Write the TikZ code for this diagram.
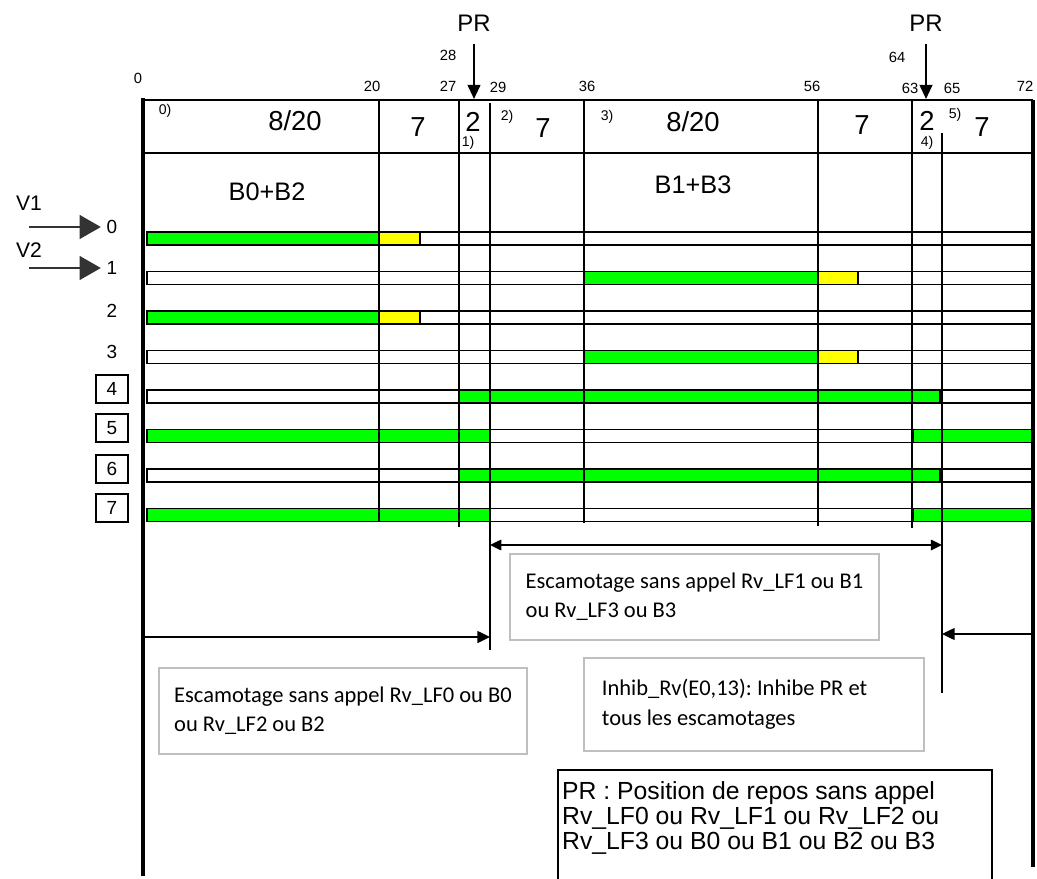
\documentclass[tikz,border=0pt]{standalone}
\usepackage{fontspec}
\setmainfont{Liberation Sans}
\newfontfamily\notefont{Carlito}
\usetikzlibrary{arrows.meta}
\definecolor{segGreen}{RGB}{0,255,0}
\definecolor{segYellow}{RGB}{255,255,0}
\frenchspacing

\begin{document}
\begin{tikzpicture}[
  x=0.025cm, y=-0.025cm,
  guide/.style={line width=1.4pt},
  rail/.style={line width=2.6pt},
  bar/.style={draw, line width=1.2pt, fill=white},
  seg_green/.style={bar, fill=segGreen},
  seg_yellow/.style={bar, fill=segYellow},
  tick/.style={font=\fontsize{10.5}{12}\selectfont, inner sep=1pt},
  cell/.style={font=\fontsize{19.5}{22}\selectfont, inner sep=1pt},
  sub/.style={font=\fontsize{10}{11}\selectfont, inner sep=0.5pt},
  group/.style={font=\fontsize{18}{20}\selectfont, inner sep=1pt},
  pr_label/.style={font=\fontsize{17}{19}\selectfont, inner sep=2pt},
  v_label/.style={font=\fontsize{15}{17}\selectfont, inner sep=1pt},
  row_label/.style={font=\fontsize{13.5}{15}\selectfont, inner sep=1pt},
  row_box/.style={row_label, draw, line width=1.2pt, minimum width=0.8cm, minimum height=0.7cm},
  pr_flow/.style={-{Triangle[length=10pt,width=9pt]}, line width=1.5pt},
  v_flow/.style={-{Triangle[length=15pt,width=17pt]}, line width=0.8pt, draw=black!80},
  flow/.style={-{Triangle[length=9pt,width=8.5pt]}, line width=1.1pt},
  span/.style={{Triangle[length=8pt,width=7.5pt]}-{Triangle[length=8pt,width=7.5pt]}, line width=1.1pt},
  note/.style={
    draw=black!25,
    line width=1.3pt,
    anchor=north west,
    align=left,
    inner sep=2pt,
    font=\notefont\fontsize{16}{21}\selectfont,
  },
]
\path[use as bounding box] (0,0) rectangle (1037,879);
\clip (0,0) rectangle (1037,879);

% rows 0..7
\draw[bar] (147,232) rectangle (1032,245);
\draw[seg_green] (147,232) rectangle (379,245);
\draw[seg_yellow] (379,232) rectangle (420,245);

\draw[bar] (147,271.5) rectangle (1032,284.5);
\draw[seg_green] (584,271.5) rectangle (818,284.5);
\draw[seg_yellow] (818,271.5) rectangle (858,284.5);

\draw[bar] (147,311) rectangle (1032,324);
\draw[seg_green] (147,311) rectangle (379,324);
\draw[seg_yellow] (379,311) rectangle (420,324);

\draw[bar] (147,350.5) rectangle (1032,363.5);
\draw[seg_green] (584,350.5) rectangle (818,363.5);
\draw[seg_yellow] (818,350.5) rectangle (858,363.5);

\draw[bar] (147,390) rectangle (1032,403);
\draw[seg_green] (459,390) rectangle (940,403);

\draw[bar] (147,429.5) rectangle (1032,442.5);
\draw[seg_green] (147,429.5) rectangle (490,442.5);
\draw[seg_green] (913,429.5) rectangle (1032,442.5);

\draw[bar] (147,469) rectangle (1032,482);
\draw[seg_green] (459,469) rectangle (940,482);

\draw[bar] (147,508.5) rectangle (1032,521.5);
\draw[seg_green] (147,508.5) rectangle (490,521.5);
\draw[seg_green] (913,508.5) rectangle (1032,521.5);

% time grid
\draw[rail] (143,98) -- (143,876);
\draw[rail] (1033,100) -- (1033,867);
\draw[guide] (143,100) -- (1033,100);
\draw[guide] (143,153) -- (1033,153);
\draw[guide] (379,100) -- (379,522);
\draw[guide] (459,100) -- (459,527);
\draw[guide] (490,103) -- (490,650);
\draw[guide] (584,100) -- (584,523);
\draw[guide] (818,100) -- (818,526);
\draw[guide] (912,100) -- (912,528);
\draw[guide] (942,133) -- (942,693);

% PR markers
\node[pr_label] (pr_left) at (474,23) {PR};
\node[pr_label] (pr_right) at (926,23) {PR};
\coordinate (hit_28) at (474,99);
\coordinate (hit_64) at (926,99);
\draw[pr_flow, shorten <=7pt] (pr_left) -- (hit_28);
\draw[pr_flow, shorten <=7pt] (pr_right) -- (hit_64);

\node[tick] (t_0) at (138,78) {0};
\node[tick] (t_20) at (372,86) {20};
\node[tick] (t_27) at (448,86) {27};
\node[tick] (t_28) at (448,55) {28};
\node[tick] (t_29) at (498,87) {29};
\node[tick] (t_36) at (587,86) {36};
\node[tick] (t_56) at (812,86) {56};
\node[tick] (t_63) at (910,88) {63};
\node[tick] (t_64) at (897,57) {64};
\node[tick] (t_65) at (952,88) {65};
\node[tick] (t_72) at (1025,86) {72};

% header cells
\node[sub] (n_0) at (165,111) {0)};
\node[cell] (c_a) at (295,121) {8/20};
\node[cell] (c_b) at (418,127) {7};
\node[cell] (c_c) at (473,122) {2};
\node[sub] (n_1) at (468,143) {1)};
\node[sub] (n_2) at (507,117) {2)};
\node[cell] (c_d) at (543,128) {7};
\node[sub] (n_3) at (607,117) {3)};
\node[cell] (c_e) at (693,122) {8/20};
\node[cell] (c_f) at (862,125) {7};
\node[cell] (c_g) at (927,121) {2};
\node[sub] (n_4) at (927,143) {4)};
\node[sub] (n_5) at (955,115) {5)};
\node[cell] (c_h) at (982,127) {7};

\node[group] (grp_a) at (267,192) {B0+B2};
\node[group] (grp_b) at (693,185) {B1+B3};

% valve inputs and rows
\node[v_label] (v1) at (29,203) {V1};
\node[v_label] (v2) at (29,250) {V2};
\node[row_label] (row_0) at (112,227) {0};
\node[row_label] (row_1) at (112,268) {1};
\node[row_label] (row_2) at (112,311) {2};
\node[row_label] (row_3) at (112,352) {3};
\node[row_box] (row_4) at (112,389) {4};
\node[row_box] (row_5) at (112,428) {5};
\node[row_box] (row_6) at (112,469) {6};
\node[row_box] (row_7) at (112,508) {7};
\coordinate (v1_in) at (29,227);
\coordinate (v2_in) at (29,268);
\draw[v_flow, shorten >=3pt] (v1_in) -- (row_0.west);
\draw[v_flow, shorten >=3pt] (v2_in) -- (row_1.west);

% escamotage spans
\coordinate (m_29) at (490,545);
\coordinate (m_65) at (942,545);
\coordinate (l_0) at (144,637);
\coordinate (l_29) at (490,637);
\coordinate (r_72) at (1031,634);
\coordinate (r_65) at (942,634);
\draw[span] (m_29) -- (m_65);
\draw[flow] (l_0) -- (l_29);
\draw[flow] (r_72) -- (r_65);

\node[note, minimum width=9.225cm, minimum height=2.15cm] (esc_odd) at (509,553)
  {Escamotage sans appel Rv\_LF1 ou B1\\ou Rv\_LF3 ou B3};
\node[note, minimum width=9.2cm, minimum height=2.15cm] (esc_even) at (158,667)
  {Escamotage sans appel Rv\_LF0 ou B0\\ou Rv\_LF2 ou B2};
\node[note, align=flush left, text width=7.6cm, inner xsep=0.45cm, minimum height=2.325cm] (inhib) at (583,657)
  {Inhib\_Rv(E0,13): Inhibe PR et\\tous les escamotages};

\node[draw, line width=1.4pt, anchor=north west, align=flush left, text width=10.64cm,
  inner xsep=3pt, inner ysep=8pt, text depth=70pt,
  font=\fontsize{17.6}{17.8}\selectfont] (pr_def) at (557,769)
  {PR : Position de repos sans appel\\Rv\_LF0 ou Rv\_LF1 ou Rv\_LF2 ou\\Rv\_LF3 ou B0 ou B1 ou B2 ou B3};

\end{tikzpicture}
\end{document}
